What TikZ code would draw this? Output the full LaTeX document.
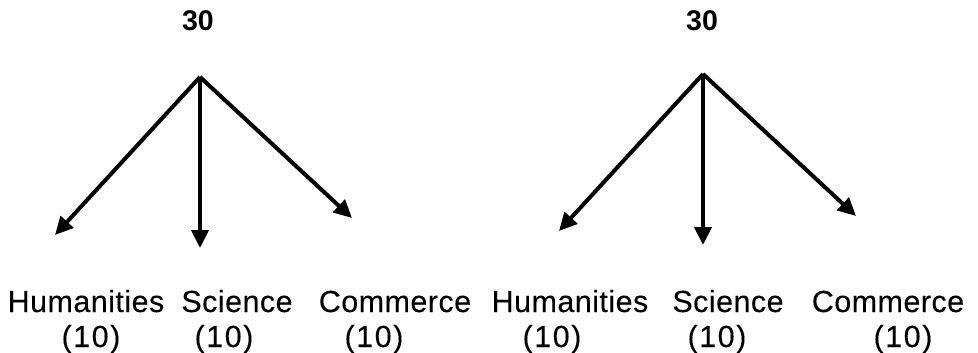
\documentclass[tikz,border=0pt]{standalone}
\usepackage{fontspec}
\setmainfont{Liberation Sans}
\usetikzlibrary{arrows.meta}
\begin{document}
\begin{tikzpicture}[x=1pt,y=-1pt,
  lbl/.style={anchor=base,inner sep=0pt,font=\fontsize{30.5}{32}\selectfont\addfontfeature{LetterSpace=1.5,FakeBold=0.15}},
  num/.style={anchor=base,inner sep=0pt,font=\fontsize{30.5}{32}\selectfont\addfontfeature{LetterSpace=5,FakeBold=0.15}},
  top/.style={inner sep=0pt,font=\fontsize{28.5}{30}\selectfont\bfseries},
  arr/.style={line width=4pt,-{Triangle[length=18pt,width=17pt]}}]
\useasboundingbox (0,0) rectangle (978,353);
% left tree
\node[top] (t1) at (198,21) {30};
\coordinate (a1) at (200,77);
\coordinate (l1) at (55,235);
\coordinate (m1) at (200,248);
\coordinate (r1) at (352,218);
\draw[arr] (a1) -- (l1);
\draw[arr] (a1) -- (m1);
\draw[arr] (a1) -- (r1);
\node[lbl] (h1) at (86,312) {Humanities};
\node[lbl] (s1) at (237,312) {Science};
\node[lbl] (c1) at (395,312) {Commerce};
\node[num] (hn1) at (91,347) {(10)};
\node[num] (sn1) at (224,347) {(10)};
\node[num] (cn1) at (374,347) {(10)};
% right tree
\node[top] (t2) at (702,21) {30};
\coordinate (a2) at (703,74);
\coordinate (l2) at (559,231);
\coordinate (m2) at (703,245);
\coordinate (r2) at (856,216);
\draw[arr] (a2) -- (l2);
\draw[arr] (a2) -- (m2);
\draw[arr] (a2) -- (r2);
\node[lbl] (h2) at (570,312) {Humanities};
\node[lbl] (s2) at (728,312) {Science};
\node[lbl] (c2) at (888,312) {Commerce};
\node[num] (hn2) at (552,347) {(10)};
\node[num] (sn2) at (717,347) {(10)};
\node[num] (cn2) at (903,347) {(10)};
\end{tikzpicture}
\end{document}
